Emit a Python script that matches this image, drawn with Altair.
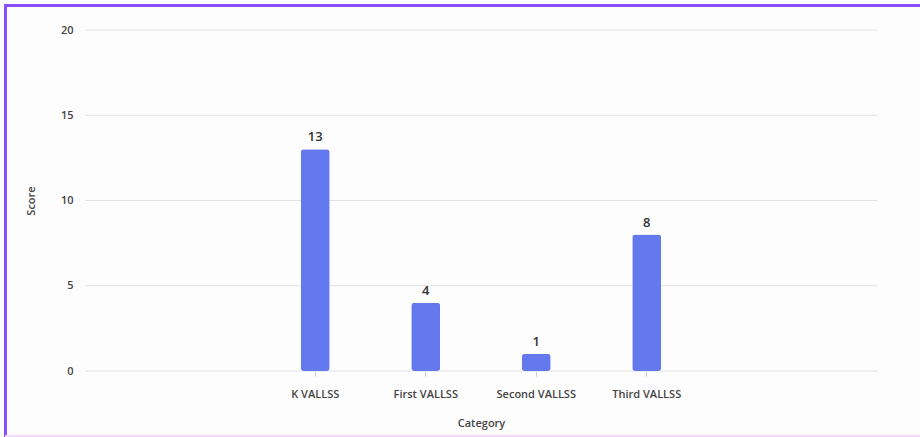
import altair as alt
import pandas as pd

categories = ["K VALLSS", "First VALLSS", "Second VALLSS", "Third VALLSS"]
scores = [13, 4, 1, 8]
y_ticks = [0, 5, 10, 15, 20]

df = pd.DataFrame({"Category": categories, "Score": scores})
grid_df = pd.DataFrame({"tick": y_ticks})

W, H = 792, 341
FONT = "Open Sans"

y_scale = alt.Scale(domain=[0, 20], nice=False)
x_scale = alt.Scale(range=[175, 617], paddingOuter=0, paddingInner=0)

y_axis = alt.Axis(
    title="Score", values=y_ticks, domain=False, ticks=False, grid=False,
    labelFont=FONT, labelFontSize=11, labelColor="#444444", labelFontWeight=600,
    labelPadding=12,
    titleFont=FONT, titleFontSize=11, titleFontWeight=600, titleColor="#444444",
    titlePadding=24,
)

grid = alt.Chart(grid_df).mark_rule(color="#e2e2e6", strokeWidth=1.2).encode(
    y=alt.Y("tick:Q", scale=y_scale, axis=y_axis, title="Score"),
    x=alt.value(0),
    x2=alt.value(W),
)

base = alt.Chart(df)

x_enc = alt.X(
    "Category:N",
    sort=categories,
    scale=x_scale,
    axis=alt.Axis(
        title="Category", labelAngle=0, domain=False, ticks=True, tickSize=5,
        tickColor="#d0d0d0", labelFont=FONT, labelFontSize=11, labelColor="#444444",
        labelFontWeight=600, labelPadding=12, titleFont=FONT, titleFontSize=11,
        titleFontWeight=600, titleColor="#444444", titlePadding=18, grid=False,
    ),
)
y_enc = alt.Y("Score:Q", scale=y_scale, axis=y_axis, title="Score")

bars = base.mark_bar(color="#6479ee", size=29, cornerRadius=3).encode(x=x_enc, y=y_enc)

labels = base.mark_text(dy=-12, font=FONT, fontSize=13, fontWeight=600, color="#333333").encode(
    x=alt.X("Category:N", sort=categories),
    y=alt.Y("Score:Q", scale=y_scale, axis=y_axis, title="Score"),
    text="Score:Q",
)

border_top = base.mark_rule(color="#8a4dff", strokeWidth=3).encode(
    x=alt.value(-80), x2=alt.value(W + 60), y=alt.value(-24.5)
).transform_filter(alt.datum.Category == categories[0])
border_left = base.mark_rule(color="#8a4dff", strokeWidth=3).encode(
    x=alt.value(-79.5), y=alt.value(-26), y2=alt.value(H + 70)
).transform_filter(alt.datum.Category == categories[0])
border_bottom = base.mark_rule(color="#f3dcfb", strokeWidth=2).encode(
    x=alt.value(-80), x2=alt.value(W + 60), y=alt.value(H + 65)
).transform_filter(alt.datum.Category == categories[0])

chart = (
    alt.layer(grid, bars, labels, border_top, border_left, border_bottom)
    .properties(
        width=W,
        height=H,
        autosize=alt.AutoSizeParams(type="none"),
        padding={"left": 85, "top": 30, "right": 43, "bottom": 66},
        background="#fdfdfd",
    )
    .configure_view(stroke=None)
)

chart.save("out.html", embed_options={"renderer": "svg", "actions": False})
